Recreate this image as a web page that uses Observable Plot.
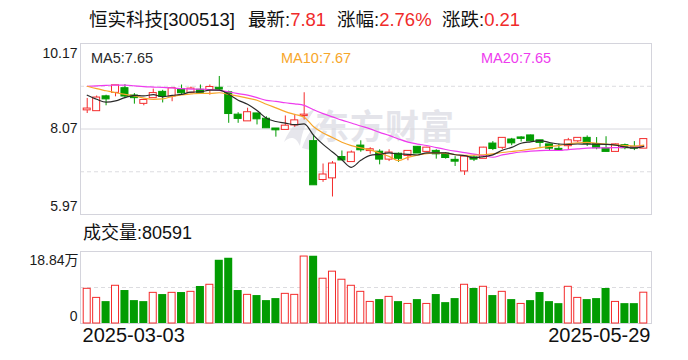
<!DOCTYPE html>
<html><head><meta charset="utf-8">
<script src="https://cdn.jsdelivr.net/npm/d3@7"></script>
<script src="https://cdn.jsdelivr.net/npm/@observablehq/plot@0.6"></script>
<style>
body{margin:0;background:#fff;font-family:"Liberation Sans","Noto Sans CJK SC",sans-serif;}
#wrap{position:relative;width:688px;height:360px;overflow:hidden;background:#fff;}
.abs{position:absolute;white-space:nowrap;}
.abs svg{display:block;}
</style></head><body><div id="wrap"></div>
<script>
// ---- data ----
const dates = [
"2025-03-03","2025-03-04","2025-03-05","2025-03-06","2025-03-07","2025-03-10","2025-03-11","2025-03-12","2025-03-13","2025-03-14",
"2025-03-17","2025-03-18","2025-03-19","2025-03-20","2025-03-21","2025-03-24","2025-03-25","2025-03-26","2025-03-27","2025-03-28",
"2025-03-31","2025-04-01","2025-04-02","2025-04-03","2025-04-07","2025-04-08","2025-04-09","2025-04-10","2025-04-11","2025-04-14",
"2025-04-15","2025-04-16","2025-04-17","2025-04-18","2025-04-21","2025-04-22","2025-04-23","2025-04-24","2025-04-25","2025-04-28",
"2025-04-29","2025-04-30","2025-05-06","2025-05-07","2025-05-08","2025-05-09","2025-05-12","2025-05-13","2025-05-14","2025-05-15",
"2025-05-16","2025-05-19","2025-05-20","2025-05-21","2025-05-22","2025-05-23","2025-05-26","2025-05-27","2025-05-28","2025-05-29"];
const open = [8.54,8.52,8.86,8.97,9.06,8.88,8.70,8.84,8.97,8.88, 9.04,8.97,9.02,9.04,9.07,8.96,8.41,8.27,8.44,8.31,
 8.07,8.06,8.17,8.40,7.76,6.83,6.87,7.37,7.27,7.65, 7.54,7.50,7.33,7.45,7.42,7.62,7.52,7.52,7.45,7.30,
 7.04,7.36,7.35,7.70,7.62,7.80,7.85,7.90,7.78,7.68, 7.57,7.66,7.78,7.84,7.68,7.58,7.52,7.66,7.62,7.60];
const high = [8.82,8.88,8.90,9.14,9.16,8.94,8.80,9.05,9.02,9.07, 9.15,9.10,9.15,9.15,9.36,9.00,8.47,8.58,8.45,8.37,
 8.07,8.39,8.43,8.96,7.92,7.21,7.27,7.53,7.53,7.78, 7.61,7.56,7.56,7.48,7.53,7.63,7.62,7.56,7.49,7.39,
 7.41,7.41,7.62,7.76,7.85,7.84,7.88,7.92,7.79,7.69, 7.70,7.84,7.85,7.90,7.86,7.88,7.70,7.70,7.76,7.82];
const low = [8.45,8.52,8.64,8.86,8.82,8.68,8.64,8.84,8.71,8.74, 8.92,8.96,8.96,8.90,9.02,8.21,8.21,8.27,8.17,8.10,
 7.87,8.06,8.11,8.29,6.70,6.76,6.40,7.31,7.27,7.50, 7.45,7.19,7.27,7.25,7.29,7.47,7.50,7.33,7.33,7.15,
 6.93,7.27,7.35,7.54,7.56,7.66,7.75,7.77,7.62,7.54, 7.55,7.56,7.73,7.64,7.56,7.51,7.51,7.56,7.54,7.59];
const close = [8.56,8.83,8.81,9.13,8.88,8.84,8.77,8.94,8.87,9.06, 8.96,9.05,8.97,9.09,9.05,8.45,8.33,8.47,8.32,8.10,
 8.05,8.14,8.27,8.41,6.70,6.94,7.21,7.31,7.48,7.56, 7.56,7.33,7.48,7.35,7.52,7.48,7.60,7.46,7.37,7.28,
 7.38,7.33,7.60,7.59,7.84,7.73,7.84,7.78,7.74,7.60, 7.55,7.78,7.84,7.72,7.61,7.52,7.68,7.61,7.60,7.81];
const volume = [90770,67020,57260,98680,86280,59900,57260,80210,75730,80210, 81010,82850,96840,101320,165440,170720,86280,74940,73090,59900,
 65170,77580,74940,175200,176000,117150,135630,114520,98680,82850, 56470,62540,69660,57260,51190,62540,51190,75730,54620,65170,
 101320,91560,96050,73090,82850,62540,51190,59900,81010,57260, 51980,96050,67020,62540,65170,91560,56470,51980,51980,80591];
// moving-average values for days whose window starts before 2025-03-03
const ma5Head = [8.90,8.80,8.73,8.76];
const ma10Head = [9.12,9.06,9.01,8.96,8.92,8.88,8.83,8.80,8.81];
const ma20Head = [9.12,9.13,9.14,9.15,9.15,9.13,9.11,9.10,9.09,9.08,9.06,9.05,9.05,9.04,9.02,8.98,8.94,8.90,8.84];
const priceTicks = [5.97, 8.07, 10.17];
const priceDashed = [7.02, 9.12];
const volumeTicks = [0, 188400];
const volumeDashed = [94200];
const titleLabels = ["恒实科技[300513]", "最新:", "涨幅:", "涨跌:"];
const titleValues = ["", "7.81", "2.76%", "0.21"];
const maLabels = ["MA5:7.65", "MA10:7.67", "MA20:7.65"];
const volumeLabel = "成交量:80591";

// ---- styles ----
const RED = "#f42c2c", GREEN = "#029c02";
const MA_COLORS = ["#2a2a2a", "#f7a62a", "#ee3cee"];
const FRAME = "#d4d4dc";
const FONT = '"Liberation Sans","Noto Sans CJK SC",sans-serif';

function ma(n, head) {
  return close.map((c, i) => i < n - 1 ? head[i] : d3.mean(close.slice(i - n + 1, i + 1)));
}
const m5 = ma(5, ma5Head), m10 = ma(10, ma10Head), m20 = ma(20, ma20Head);
const rows = dates.map((date, i) => {
  const prev = i === 0 ? open[0] : close[i - 1];
  const up = close[i] > open[i] || (close[i] === open[i] && close[i] >= prev);
  return {date, open: open[i], high: high[i], low: low[i], close: close[i], volume: volume[i],
          up, volUp: close[i] >= prev, ma5: m5[i], ma10: m10[i], ma20: m20[i]};
});
const upRows = rows.filter(d => d.up), downRows = rows.filter(d => !d.up);
const vUp = rows.filter(d => d.volUp), vDown = rows.filter(d => !d.volUp);

const wrap = document.getElementById("wrap");
function place(el, left, top) { const d = document.createElement("div"); d.className = "abs"; d.style.left = left + "px"; d.style.top = top + "px"; d.appendChild(el); wrap.appendChild(d); return d; }

// watermark (under the chart)
const wm = document.createElement("div");
wm.innerHTML = '<svg width="40" height="44" viewBox="0 0 40 44"><path d="M2 36 C8 22 18 10 34 2 C26 12 20 24 18 40 C14 30 8 30 2 36Z" fill="#e6e6ec"/><path d="M20 42 C24 30 30 22 38 16 C34 26 30 34 28 44Z" fill="#e6e6ec"/></svg>';
place(wm, 282, 106);
const wmText = document.createElement("span");
wmText.textContent = "东方财富";
wmText.style.cssText = `font-family:"Noto Sans CJK SC",sans-serif;font-weight:bold;font-size:34px;line-height:34px;color:#e4e4ea;letter-spacing:1px;`;
place(wmText, 315, 108);

const xOpts = {type: "band", domain: dates, paddingInner: 0.15, paddingOuter: 0.075, insetLeft: 2, insetRight: 3, round: false, axis: null};

// ---- price panel ----
const price = Plot.plot({
  width: 688, height: 180, marginTop: 3, marginBottom: 6, marginLeft: 80, marginRight: 37,
  style: {background: "transparent", fontFamily: FONT, overflow: "visible"},
  x: xOpts,
  y: {domain: [priceTicks[0], priceTicks[2]], axis: null},
  marks: [
    Plot.ruleY(priceDashed, {stroke: "#dcdce0", strokeDasharray: "4,3"}),
    Plot.ruleY([priceTicks[1]], {stroke: "#d8d8de"}),
    Plot.frame({stroke: FRAME}),
    Plot.ruleX(upRows, {x: "date", y1: "low", y2: "high", stroke: RED}),
    Plot.ruleX(downRows, {x: "date", y1: "low", y2: "high", stroke: GREEN}),
    Plot.barY(upRows, {x: "date", y1: "open", y2: "close", fill: "white", stroke: RED, insetLeft: 0.5, insetRight: 0.5, insetTop: -0.5, insetBottom: -0.5}),
    Plot.barY(downRows, {x: "date", y1: "open", y2: "close", fill: GREEN, stroke: GREEN, insetLeft: 0.5, insetRight: 0.5, insetTop: -0.5, insetBottom: -0.5}),
    Plot.line(rows, {x: "date", y: "ma20", stroke: MA_COLORS[2], strokeWidth: 1.2, curve: "monotone-x"}),
    Plot.line(rows, {x: "date", y: "ma10", stroke: MA_COLORS[1], strokeWidth: 1.2, curve: "monotone-x"}),
    Plot.line(rows, {x: "date", y: "ma5", stroke: MA_COLORS[0], strokeWidth: 1.2, curve: "monotone-x"}),
    Plot.text([priceTicks[2]], {y: d => d, text: d => d.toFixed(2), frameAnchor: "left", textAnchor: "end", dx: -3, dy: 10, fontSize: 14, fill: "#1a1a1a"}),
    Plot.text([priceTicks[1]], {y: d => d, text: d => d.toFixed(2), frameAnchor: "left", textAnchor: "end", dx: -3, dy: 0, fontSize: 14, fill: "#1a1a1a"}),
    Plot.text([priceTicks[0]], {y: d => d, text: d => d.toFixed(2), frameAnchor: "left", textAnchor: "end", dx: -3, dy: -8, fontSize: 14, fill: "#1a1a1a"})
  ]
});
place(price, 0, 40);

// ---- volume panel ----
const fmtVol = v => v === 0 ? "0" : (v / 10000).toFixed(2) + "万";
const vol = Plot.plot({
  width: 688, height: 115, marginTop: 6, marginBottom: 37, marginLeft: 80, marginRight: 37,
  style: {background: "transparent", fontFamily: FONT, overflow: "visible"},
  x: xOpts,
  y: {domain: [volumeTicks[0], volumeTicks[1]], axis: null},
  marks: [
    Plot.ruleY(volumeDashed, {stroke: "#dcdce0", strokeDasharray: "4,3"}),
    Plot.frame({stroke: FRAME}),
    Plot.barY(vUp, {x: "date", y: "volume", fill: "white", stroke: RED, insetLeft: 0.5, insetRight: 0.5}),
    Plot.barY(vDown, {x: "date", y: "volume", fill: GREEN, insetLeft: 0, insetRight: 0}),
    Plot.text([volumeTicks[1]], {y: d => d, text: fmtVol, frameAnchor: "left", textAnchor: "end", dx: -2, dy: 9.5, fontSize: 14, fill: "#1a1a1a"}),
    Plot.text([volumeTicks[0]], {y: d => d, text: fmtVol, frameAnchor: "left", textAnchor: "end", dx: -3, dy: -7, fontSize: 14, fill: "#1a1a1a"}),
    Plot.text([dates[0]], {x: d => d, text: d => d, frameAnchor: "bottom", textAnchor: "start", dx: -4.7, dy: 18, fontSize: 20, fill: "#111"}),
    Plot.text([dates[dates.length - 1]], {x: d => d, text: d => d, frameAnchor: "bottom", textAnchor: "end", dx: 6.7, dy: 18, fontSize: 20, fill: "#111"})
  ]
});
place(vol, 0, 245);

// ---- texts ----
const titleLefts = [89, 248, 337, 442];
titleLabels.forEach((lab, i) => {
  const s = document.createElement("span");
  s.style.cssText = "font-size:18.5px;line-height:18px;color:#111;";
  s.textContent = lab;
  if (titleValues[i]) { const r = document.createElement("span"); r.style.color = "#f02a2a"; r.textContent = titleValues[i]; s.appendChild(r); }
  place(s, titleLefts[i], 11);
});
const maLefts = [91, 281, 481];
maLabels.forEach((lab, i) => {
  const s = document.createElement("span");
  s.style.cssText = `font-size:14.5px;line-height:14px;color:${MA_COLORS[i]};`;
  s.textContent = lab;
  place(s, maLefts[i], 49);
});
const vl = document.createElement("span");
vl.style.cssText = "font-size:18px;line-height:18px;color:#111;";
vl.textContent = volumeLabel;
place(vl, 83, 224);
</script></body></html>
